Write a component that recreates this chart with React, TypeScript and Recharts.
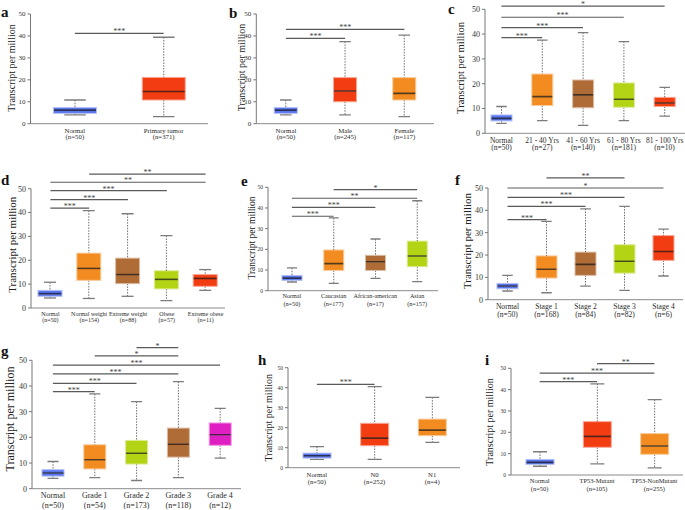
import React from 'react';
import { ComposedChart, Bar, XAxis, YAxis, ReferenceLine } from 'recharts';

const FONT = '"Liberation Serif", "Times New Roman", Times, serif';

const BLUE = '#5874ee';
const RED = '#f23c12';
const ORANGE = '#f28c20';
const BROWN = '#b06c36';
const LIME = '#b2d414';
const MAGENTA = '#e01fc2';

// ---------- Panel a ----------
const aCats = ['Normal', 'Primary tumor'];
const aNs = ['(n=50)', '(n=371)'];
const aMin = [4.0, 3.2];
const aQ1 = [4.7, 10.8];
const aMed = [6.2, 14.7];
const aQ3 = [7.4, 21.1];
const aMax = [10.8, 39.4];
const aColors = [BLUE, RED];
const aSigs: [string, string, number, string][] = [['Normal', 'Primary tumor', 41.2, '***']];

// ---------- Panel b ----------
const bCats = ['Normal', 'Male', 'Female'];
const bNs = ['(n=50)', '(n=245)', '(n=117)'];
const bMin = [4.0, 4.0, 3.2];
const bQ1 = [4.7, 10.0, 10.8];
const bMed = [6.2, 14.9, 13.8];
const bQ3 = [7.4, 21.0, 21.0];
const bMax = [10.8, 37.4, 40.4];
const bColors = [BLUE, RED, ORANGE];
const bSigs: [string, string, number, string][] = [
  ['Normal', 'Male', 38.9, '***'],
  ['Normal', 'Female', 43.0, '***'],
];

// ---------- Panel c ----------
const cCats = ['Normal', '21 - 40 Yrs', '41 - 60 Yrs', '61 - 80 Yrs', '81 - 100 Yrs'];
const cNs = ['(n=50)', '(n=27)', '(n=140)', '(n=181)', '(n=10)'];
const cMin = [4.0, 5.1, 3.2, 5.1, 6.9];
const cQ1 = [5.0, 11.2, 10.3, 10.5, 10.8];
const cMed = [6.0, 14.8, 15.5, 13.7, 12.2];
const cQ3 = [7.4, 23.9, 21.5, 20.3, 14.5];
const cMax = [10.8, 37.6, 40.6, 37.0, 18.5];
const cColors = [BLUE, ORANGE, BROWN, LIME, RED];
const cSigs: [string, string, number, string][] = [
  ['Normal', '21 - 40 Yrs', 38.6, '***'],
  ['Normal', '41 - 60 Yrs', 42.6, '***'],
  ['Normal', '61 - 80 Yrs', 46.8, '***'],
  ['Normal', '81 - 100 Yrs', 51.3, '*'],
];

// ---------- Panel d ----------
const dCats = ['Normal', 'Normal weight', 'Extreme weight', 'Obese', 'Extreme obese'];
const dNs = ['(n=50)', '(n=154)', '(n=88)', '(n=57)', '(n=11)'];
const dMin = [4.2, 4.0, 4.9, 3.1, 7.4];
const dQ1 = [4.9, 11.6, 10.2, 8.0, 9.1];
const dMed = [6.0, 16.6, 14.0, 12.0, 12.4];
const dQ3 = [7.4, 23.0, 20.9, 15.6, 14.0];
const dMax = [10.8, 40.8, 39.5, 30.3, 16.1];
const dColors = [BLUE, ORANGE, BROWN, LIME, RED];
const dSigs: [string, string, number, string][] = [
  ['Normal', 'Normal weight', 41.9, '***'],
  ['Normal', 'Extreme weight', 45.4, '***'],
  ['Normal', 'Obese', 49.2, '***'],
  ['Normal', 'Extreme obese', 52.7, '**'],
  ['Normal weight', 'Extreme obese', 56.1, '**'],
];

// ---------- Panel e ----------
const eCats = ['Normal', 'Caucasian', 'African-american', 'Asian'];
const eNs = ['(n=50)', '(n=177)', '(n=17)', '(n=157)'];
const eMin = [4.2, 3.5, 6.0, 4.4];
const eQ1 = [5.0, 9.8, 9.8, 11.6];
const eMed = [6.1, 13.1, 14.0, 16.8];
const eQ3 = [7.4, 19.7, 17.1, 24.0];
const eMax = [11.0, 35.2, 25.0, 43.5];
const eColors = [BLUE, ORANGE, BROWN, LIME];
const eSigs: [string, string, number, string][] = [
  ['Normal', 'Caucasian', 36.0, '***'],
  ['Normal', 'African-american', 40.3, '***'],
  ['Normal', 'Asian', 44.7, '**'],
  ['Caucasian', 'Asian', 48.9, '*'],
];

// ---------- Panel f ----------
const fCats = ['Normal', 'Stage 1', 'Stage 2', 'Stage 3', 'Stage 4'];
const fNs = ['(n=50)', '(n=168)', '(n=84)', '(n=82)', '(n=6)'];
const fMin = [3.9, 3.1, 6.1, 4.2, 10.6];
const fQ1 = [4.9, 9.7, 10.9, 11.9, 17.6];
const fMed = [6.1, 13.6, 15.8, 17.2, 21.6];
const fQ3 = [7.3, 19.6, 21.3, 24.6, 28.7];
const fMax = [10.9, 35.1, 40.7, 41.8, 31.6];
const fColors = [BLUE, ORANGE, BROWN, LIME, RED];
const fSigs: [string, string, number, string][] = [
  ['Normal', 'Stage 1', 35.8, '***'],
  ['Normal', 'Stage 2', 41.8, '***'],
  ['Normal', 'Stage 3', 45.8, '***'],
  ['Normal', 'Stage 4', 50.0, '*'],
  ['Stage 1', 'Stage 3', 54.5, '**'],
];

// ---------- Panel g ----------
const gCats = ['Normal', 'Grade 1', 'Grade 2', 'Grade 3', 'Grade 4'];
const gNs = ['(n=50)', '(n=54)', '(n=173)', '(n=118)', '(n=12)'];
const gMin = [4.0, 4.3, 3.2, 4.3, 11.9];
const gQ1 = [4.9, 7.7, 9.6, 12.3, 16.9];
const gMed = [6.1, 11.3, 13.8, 17.3, 21.0];
const gQ3 = [7.4, 17.1, 18.8, 23.6, 25.6];
const gMax = [10.6, 36.9, 33.9, 41.7, 31.3];
const gColors = [BLUE, ORANGE, LIME, BROWN, MAGENTA];
const gSigs: [string, string, number, string][] = [
  ['Normal', 'Grade 1', 37.8, '***'],
  ['Normal', 'Grade 2', 41.0, '***'],
  ['Normal', 'Grade 3', 44.7, '***'],
  ['Normal', 'Grade 4', 48.1, '***'],
  ['Grade 1', 'Grade 3', 51.7, '*'],
  ['Grade 2', 'Grade 3', 54.9, '*'],
];

// ---------- Panel h ----------
const hCats = ['Normal', 'N0', 'N1'];
const hNs = ['(n=50)', '(n=252)', '(n=4)'];
const hMin = [4.2, 4.2, 12.7];
const hQ1 = [4.8, 11.0, 16.0];
const hMed = [6.0, 14.8, 18.8];
const hQ3 = [7.3, 22.2, 24.3];
const hMax = [10.5, 40.5, 35.2];
const hColors = [BLUE, RED, ORANGE];
const hSigs: [string, string, number, string][] = [['Normal', 'N0', 41.7, '***']];

// ---------- Panel i ----------
const iCats = ['Normal', 'TP53-Mutant', 'TP53-NonMutant'];
const iNs = ['(n=50)', '(n=105)', '(n=255)'];
const iMin = [4.1, 5.2, 3.3];
const iQ1 = [5.0, 13.0, 9.7];
const iMed = [5.9, 18.1, 13.6];
const iQ3 = [7.3, 25.0, 19.4];
const iMax = [10.9, 42.7, 35.3];
const iColors = [BLUE, RED, ORANGE];
const iSigs: [string, string, number, string][] = [
  ['Normal', 'TP53-Mutant', 43.75, '***'],
  ['Normal', 'TP53-NonMutant', 47.7, '***'],
  ['TP53-Mutant', 'TP53-NonMutant', 52.2, '**'],
];

const yTicks = [0, 10, 20, 30, 40, 50];
const yLabel = 'Transcript per million';

function mix(hex: string, target: number, t: number) {
  const n = parseInt(hex.slice(1), 16);
  const r = (n >> 16) & 255, g = (n >> 8) & 255, b = n & 255;
  const m = (c: number) => Math.round(c + (target - c) * t);
  return `rgb(${m(r)},${m(g)},${m(b)})`;
}

function buildRows(cats: string[], ns: string[], mins: number[], q1s: number[], meds: number[], q3s: number[], maxs: number[], colors: string[]) {
  return cats.map((c, i) => ({
    name: c,
    n: ns[i],
    color: colors[i],
    base: mins[i],
    lw: q1s[i] - mins[i],
    lb: meds[i] - q1s[i],
    ub: q3s[i] - meds[i],
    uw: maxs[i] - q3s[i],
  }));
}

const WHISKER = '#6e6e6e';
const CAP = '#7c7c7c';

const LowWhisker = (p: any) => {
  const { x, y, width, height } = p;
  const cx = x + width / 2;
  const cw = width * 0.5;
  return (
    <g>
      <line x1={cx} x2={cx} y1={y} y2={y + height} stroke={WHISKER} strokeWidth={1} strokeDasharray="1.5 1.3" />
      <line x1={cx - cw / 2} x2={cx + cw / 2} y1={y + height} y2={y + height} stroke={CAP} strokeWidth={1.3} />
    </g>
  );
};

const HighWhisker = (p: any) => {
  const { x, y, width, height } = p;
  const cx = x + width / 2;
  const cw = width * 0.5;
  return (
    <g>
      <line x1={cx} x2={cx} y1={y} y2={y + height} stroke={WHISKER} strokeWidth={1} strokeDasharray="1.5 1.3" />
      <line x1={cx - cw / 2} x2={cx + cw / 2} y1={y} y2={y} stroke={CAP} strokeWidth={1.3} />
    </g>
  );
};

const LowBox = (p: any) => {
  const { x, y, width, height, payload } = p;
  const c = payload.color;
  return <rect x={x} y={y} width={width} height={height} fill={c} stroke={mix(c, 255, 0.55)} strokeWidth={1} />;
};

const HighBox = (p: any) => {
  const { x, y, width, height, payload } = p;
  const c = payload.color;
  return (
    <g>
      <rect x={x} y={y} width={width} height={height} fill={c} stroke={mix(c, 255, 0.55)} strokeWidth={1} />
      <line x1={x + 0.5} x2={x + width - 0.5} y1={y + height} y2={y + height} stroke={mix(c, 20, 0.7)} strokeWidth={1.6} />
    </g>
  );
};

type PanelCfg = {
  left: number; top: number; width: number; height: number;
  x0: number; x1: number; yTop: number; yBot: number; padLeft?: number;
  rows: any[]; sigs: [string, string, number, string][];
  boxW: number; tickFs: number; yTickFs: number; l1: number; l2: number;
};

function BoxPanel({ cfg }: { cfg: PanelCfg }) {
  const { left, top, width, height, x0, x1, yTop, yBot, padLeft = 0, rows, sigs, boxW, tickFs, yTickFs, l1, l2 } = cfg;
  const yAxisW = x0 - left;
  const xAxisH = top + height - yBot;
  const margin = { top: yTop - top, right: left + width - x1, bottom: 0, left: 0 };
  const renderTick = (props: any) => {
    const { x, y, payload } = props;
    const row = rows.find((r) => r.name === payload.value);
    return (
      <g>
        <text x={x} y={y + l1} textAnchor="middle" dominantBaseline="central" fontSize={tickFs} fontFamily={FONT} fill="#2a2a2a">{payload.value}</text>
        <text x={x} y={y + l2} textAnchor="middle" dominantBaseline="central" fontSize={tickFs} fontFamily={FONT} fill="#2a2a2a">{row ? row.n : ''}</text>
      </g>
    );
  };
  return (
    <div style={{ position: 'absolute', left, top, width, height }}>
      <ComposedChart width={width} height={height} data={rows} margin={margin}>
        <XAxis
          dataKey="name"
          type="category"
          height={xAxisH}
          interval={0}
          tickLine={false}
          tickSize={0}
          tickMargin={0}
          axisLine={{ stroke: '#8a8a8a' }}
          padding={{ left: padLeft, right: 0 }}
          tick={renderTick}
        />
        <YAxis
          type="number"
          domain={[0, 50]}
          ticks={yTicks}
          width={yAxisW}
          allowDataOverflow
          interval={0}
          tickSize={3}
          tickMargin={2}
          axisLine={{ stroke: '#777' }}
          tickLine={{ stroke: '#777' }}
          tick={{ fontSize: yTickFs, fill: '#333', fontFamily: FONT }}
        />
        <Bar dataKey="base" stackId="s" fill="transparent" barSize={boxW} isAnimationActive={false} />
        <Bar dataKey="lw" stackId="s" barSize={boxW} shape={LowWhisker} isAnimationActive={false} />
        <Bar dataKey="lb" stackId="s" barSize={boxW} shape={LowBox} isAnimationActive={false} />
        <Bar dataKey="ub" stackId="s" barSize={boxW} shape={HighBox} isAnimationActive={false} />
        <Bar dataKey="uw" stackId="s" barSize={boxW} shape={HighWhisker} isAnimationActive={false} />
        {sigs.map((s, k) => (
          <ReferenceLine
            key={k}
            segment={[{ x: s[0], y: s[2] }, { x: s[1], y: s[2] }]}
            stroke="#5a5a5a"
            strokeWidth={1.2}
            ifOverflow="visible"
            label={{ value: s[3], position: 'top', offset: -1, fontSize: 8, fill: '#444', fontFamily: FONT }}
          />
        ))}
      </ComposedChart>
    </div>
  );
}

const panels: PanelCfg[] = [
  { left: 0, top: 0, width: 228, height: 165, x0: 30.5, x1: 208, yTop: 14, yBot: 123.7,
    rows: buildRows(aCats, aNs, aMin, aQ1, aMed, aQ3, aMax, aColors), sigs: aSigs,
    boxW: 43, tickFs: 6.8, yTickFs: 7, l1: 6.6, l2: 13 },
  { left: 228, top: 0, width: 227, height: 165, x0: 256.3, x1: 434, yTop: 14, yBot: 123.7,
    rows: buildRows(bCats, bNs, bMin, bQ1, bMed, bQ3, bMax, bColors), sigs: bSigs,
    boxW: 23, tickFs: 6.8, yTickFs: 7, l1: 6.6, l2: 13 },
  { left: 455, top: 0, width: 230, height: 165, x0: 485, x1: 685, yTop: 9.3, yBot: 133.3, padLeft: -4,
    rows: buildRows(cCats, cNs, cMin, cQ1, cMed, cQ3, cMax, cColors), sigs: cSigs,
    boxW: 21, tickFs: 7.5, yTickFs: 8, l1: 6.7, l2: 14.4 },
  { left: 0, top: 160, width: 228, height: 170, x0: 31, x1: 225, yTop: 188.7, yBot: 308,
    rows: buildRows(dCats, dNs, dMin, dQ1, dMed, dQ3, dMax, dColors), sigs: dSigs,
    boxW: 24, tickFs: 6, yTickFs: 8, l1: 5.7, l2: 12.3 },
  { left: 228, top: 160, width: 227, height: 170, x0: 268, x1: 438, yTop: 187.3, yBot: 290.7, padLeft: 3,
    rows: buildRows(eCats, eNs, eMin, eQ1, eMed, eQ3, eMax, eColors), sigs: eSigs,
    boxW: 20, tickFs: 6.2, yTickFs: 5.5, l1: 5, l2: 12.3 },
  { left: 455, top: 160, width: 230, height: 170, x0: 488, x1: 683, yTop: 188, yBot: 299.7,
    rows: buildRows(fCats, fNs, fMin, fQ1, fMed, fQ3, fMax, fColors), sigs: fSigs,
    boxW: 21, tickFs: 7.6, yTickFs: 8, l1: 6.6, l2: 14.3 },
  { left: 0, top: 330, width: 245, height: 180, x0: 32, x1: 241, yTop: 360.3, yBot: 488.7,
    rows: buildRows(gCats, gNs, gMin, gQ1, gMed, gQ3, gMax, gColors), sigs: gSigs,
    boxW: 22, tickFs: 8, yTickFs: 8, l1: 7, l2: 16.3 },
  { left: 245, top: 330, width: 215, height: 180, x0: 288, x1: 461, yTop: 367.7, yBot: 467.7,
    rows: buildRows(hCats, hNs, hMin, hQ1, hMed, hQ3, hMax, hColors), sigs: hSigs,
    boxW: 28, tickFs: 6.7, yTickFs: 5.5, l1: 6.3, l2: 13.3 },
  { left: 460, top: 330, width: 225, height: 180, x0: 511, x1: 683, yTop: 368.3, yBot: 475,
    rows: buildRows(iCats, iNs, iMin, iQ1, iMed, iQ3, iMax, iColors), sigs: iSigs,
    boxW: 28, tickFs: 6.5, yTickFs: 5.5, l1: 5.7, l2: 13.3 },
];

const letters = [
  { t: 'a', x: 1, y: 17 },
  { t: 'b', x: 229, y: 18 },
  { t: 'c', x: 448, y: 14 },
  { t: 'd', x: 1, y: 185 },
  { t: 'e', x: 241, y: 186 },
  { t: 'f', x: 455, y: 185 },
  { t: 'g', x: 1, y: 356 },
  { t: 'h', x: 258, y: 365 },
  { t: 'i', x: 485, y: 365 },
];

const yLabels = [
  { x: 11, y: 68, fs: 10 },
  { x: 241, y: 67.5, fs: 10 },
  { x: 460, y: 68, fs: 10.5 },
  { x: 12, y: 244.7, fs: 11 },
  { x: 252, y: 238, fs: 9.5 },
  { x: 467, y: 241, fs: 11 },
  { x: 10, y: 419, fs: 12 },
  { x: 268.7, y: 417.7, fs: 10 },
  { x: 489.3, y: 422, fs: 10 },
];

export default function App() {
  return (
    <div style={{ position: 'absolute', left: 0, top: 0, width: 685, height: 510, background: '#fff', overflow: 'hidden' }}>
      {panels.map((p, i) => (
        <BoxPanel key={i} cfg={p} />
      ))}
      <svg width={685} height={510} style={{ position: 'absolute', left: 0, top: 0, pointerEvents: 'none' }}>
        {letters.map((l, i) => (
          <text key={i} x={l.x} y={l.y} fontSize={15} fontWeight="bold" fontFamily={FONT} fill="#111">{l.t}</text>
        ))}
        {yLabels.map((l, i) => (
          <text
            key={i}
            x={l.x}
            y={l.y}
            transform={`rotate(-90 ${l.x} ${l.y})`}
            textAnchor="middle"
            dominantBaseline="central"
            fontSize={l.fs}
            fontFamily={FONT}
            fill="#222"
          >
            {yLabel}
          </text>
        ))}
      </svg>
    </div>
  );
}
